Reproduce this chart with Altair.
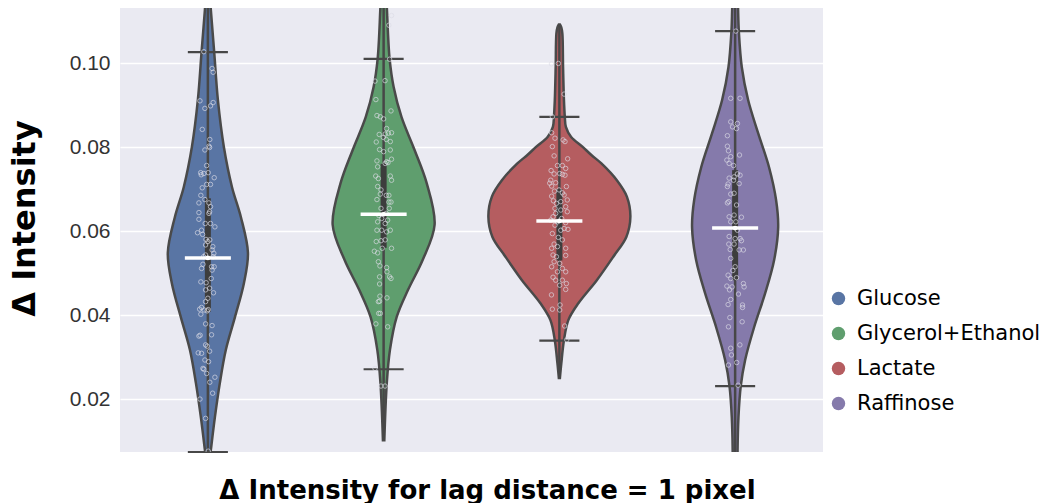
import altair as alt
import pandas as pd

# ---- categories and palette -------------------------------------------------
CATEGORIES = ["Glucose", "Glycerol+Ethanol", "Lactate", "Raffinose"]
COLORS = ["#5975A4", "#5F9E6E", "#B55D60", "#857AAB"]

# ---- violin outlines: Δ intensity grid and kernel half-width (category units)
GLUCOSE_KDE_Y = [0.1170, 0.1126, 0.1026, 0.0912, 0.0800, 0.0705, 0.0633, 0.0548,
                 0.0476, 0.0395, 0.0317, 0.0238, 0.0157, 0.0079, 0.0040]
GLUCOSE_KDE_W = [0.011, 0.017, 0.036, 0.057, 0.091, 0.137, 0.188, 0.228,
                 0.205, 0.154, 0.102, 0.068, 0.040, 0.017, 0.006]

GLYCEROL_KDE_Y = [0.1170, 0.1126, 0.1010, 0.0943, 0.0871, 0.0793, 0.0714, 0.0615,
                  0.0531, 0.0460, 0.0395, 0.0317, 0.0238, 0.0102]
GLYCEROL_KDE_W = [0.014, 0.019, 0.034, 0.057, 0.102, 0.176, 0.245, 0.290,
                  0.222, 0.139, 0.074, 0.036, 0.018, 0.004]

LACTATE_KDE_Y = [0.1092, 0.1085, 0.1070, 0.0990, 0.0912, 0.0872, 0.0848, 0.0824,
                 0.0801, 0.0781, 0.0761, 0.0721, 0.0682, 0.0634, 0.0586, 0.0539,
                 0.0483, 0.0428, 0.0388, 0.0340, 0.0285, 0.0250]
LACTATE_KDE_W = [0.003, 0.011, 0.017, 0.021, 0.026, 0.031, 0.037, 0.067,
                 0.131, 0.182, 0.239, 0.327, 0.384, 0.404, 0.381, 0.307,
                 0.213, 0.108, 0.051, 0.026, 0.011, 0.003]

RAFFINOSE_KDE_Y = [0.1170, 0.1126, 0.1076, 0.0990, 0.0912, 0.0833, 0.0752, 0.0674,
                   0.0610, 0.0531, 0.0452, 0.0371, 0.0293, 0.0231, 0.0157, 0.0079,
                   0.0040]
RAFFINOSE_KDE_W = [0.014, 0.017, 0.021, 0.038, 0.074, 0.131, 0.193, 0.233,
                   0.245, 0.222, 0.171, 0.108, 0.057, 0.032, 0.019, 0.014,
                   0.014]

# ---- box summary per category --------------------------------------------------
WHISKER_LO = [0.0074, 0.0271, 0.0339, 0.0231]
Q1 = [0.0408, 0.0560, 0.0530, 0.0483]
MEDIAN = [0.0536, 0.0640, 0.0624, 0.0607]
Q3 = [0.0678, 0.0760, 0.0700, 0.0745]
WHISKER_HI = [0.1026, 0.1010, 0.0872, 0.1076]

# ---- individual observations (value, horizontal jitter in category units) ---
GLUCOSE_PTS = [0.1027, 0.0987, 0.0978, 0.0910, 0.0906, 0.0898, 0.0892, 0.0842, 0.0818, 0.0802,
               0.0799, 0.0793, 0.0756, 0.0739, 0.0737, 0.0734, 0.0739, 0.0727, 0.0703, 0.0711,
               0.0711, 0.0685, 0.0675, 0.0667, 0.0667, 0.0658, 0.0646, 0.0642, 0.0610, 0.0618,
               0.0618, 0.0644, 0.0628, 0.0602, 0.0596, 0.0592, 0.0580, 0.0575, 0.0579, 0.0567,
               0.0563, 0.0555, 0.0547, 0.0539, 0.0543, 0.0539, 0.0521, 0.0511, 0.0515, 0.0515,
               0.0507, 0.0487, 0.0477, 0.0479, 0.0453, 0.0464, 0.0460, 0.0440, 0.0432, 0.0413,
               0.0410, 0.0414, 0.0418, 0.0412, 0.0402, 0.0375, 0.0379, 0.0353, 0.0352, 0.0350,
               0.0329, 0.0326, 0.0314, 0.0310, 0.0309, 0.0293, 0.0271, 0.0273, 0.0289, 0.0261,
               0.0252, 0.0240, 0.0214, 0.0200, 0.0154, 0.0076]
GLUCOSE_JIT = [-0.023, 0.024, 0.030, -0.045, 0.030, 0.015, -0.017, -0.032, 0.011, 0.006,
               0.010, -0.017, -0.007, -0.041, -0.023, -0.038, 0.002, 0.036, -0.032, -0.007,
               0.015, -0.040, -0.017, -0.051, 0.006, 0.015, 0.010, 0.006, 0.040, -0.015,
               0.015, -0.051, -0.051, -0.036, -0.059, -0.030, -0.011, 0.000, 0.011, -0.013,
               0.028, 0.024, 0.034, -0.024, -0.013, 0.030, -0.028, -0.036, 0.021, 0.036,
               0.024, 0.019, -0.010, -0.040, 0.032, 0.010, -0.013, 0.000, -0.013, 0.002,
               -0.004, -0.047, -0.036, -0.021, -0.040, 0.024, -0.013, 0.021, -0.044, -0.051,
               -0.013, -0.004, 0.010, -0.055, -0.036, -0.017, -0.023, -0.028, 0.004, -0.007,
               0.040, 0.011, 0.027, -0.045, -0.013, 0.002]

GLYCEROL_PTS = [0.1113, 0.1090, 0.1009, 0.0957, 0.0958, 0.0913, 0.0886, 0.0875, 0.0872, 0.0867,
                0.0844, 0.0830, 0.0831, 0.0833, 0.0834, 0.0823, 0.0812, 0.0818, 0.0813, 0.0794,
                0.0793, 0.0789, 0.0771, 0.0767, 0.0765, 0.0761, 0.0763, 0.0753, 0.0731, 0.0731,
                0.0725, 0.0721, 0.0706, 0.0698, 0.0688, 0.0685, 0.0685, 0.0675, 0.0669, 0.0669,
                0.0654, 0.0654, 0.0642, 0.0637, 0.0630, 0.0626, 0.0622, 0.0618, 0.0602, 0.0602,
                0.0598, 0.0602, 0.0575, 0.0577, 0.0579, 0.0552, 0.0548, 0.0559, 0.0559, 0.0527,
                0.0517, 0.0513, 0.0503, 0.0491, 0.0487, 0.0491, 0.0474, 0.0441, 0.0445, 0.0432,
                0.0433, 0.0404, 0.0404, 0.0379, 0.0372, 0.0273, 0.0231, 0.0231]
GLYCEROL_JIT = [0.045, 0.030, 0.034, -0.049, 0.008, -0.044, 0.042, -0.038, -0.019, 0.000,
                0.017, -0.025, 0.009, 0.027, 0.045, -0.002, -0.042, 0.015, 0.038, -0.023,
                0.038, 0.000, 0.045, -0.038, 0.017, 0.009, 0.025, -0.034, -0.045, 0.038,
                -0.030, 0.045, -0.034, -0.015, -0.019, 0.015, 0.030, -0.038, 0.030, 0.042,
                -0.015, 0.032, 0.015, -0.027, -0.011, 0.023, -0.034, 0.009, -0.038, -0.011,
                0.017, 0.038, -0.042, -0.015, 0.009, -0.053, -0.034, -0.008, 0.045, -0.030,
                -0.021, 0.017, 0.019, 0.034, 0.042, -0.023, -0.023, 0.019, -0.021, -0.030,
                -0.023, -0.028, -0.019, -0.044, 0.023, -0.049, -0.015, 0.008]

LACTATE_PTS = [0.0998, 0.0999, 0.0926, 0.0872, 0.0834, 0.0821, 0.0817, 0.0813, 0.0801, 0.0779,
               0.0772, 0.0756, 0.0756, 0.0744, 0.0749, 0.0737, 0.0736, 0.0735, 0.0733, 0.0721,
               0.0714, 0.0707, 0.0715, 0.0706, 0.0698, 0.0695, 0.0691, 0.0686, 0.0683, 0.0674,
               0.0670, 0.0666, 0.0672, 0.0658, 0.0654, 0.0650, 0.0646, 0.0642, 0.0634, 0.0626,
               0.0630, 0.0622, 0.0620, 0.0614, 0.0606, 0.0604, 0.0602, 0.0594, 0.0585, 0.0579,
               0.0569, 0.0559, 0.0563, 0.0559, 0.0543, 0.0539, 0.0542, 0.0527, 0.0523, 0.0515,
               0.0511, 0.0503, 0.0503, 0.0490, 0.0483, 0.0483, 0.0471, 0.0475, 0.0461, 0.0448,
               0.0424, 0.0414, 0.0412, 0.0374, 0.0341]
LACTATE_JIT = [-0.045, -0.006, 0.027, -0.040, -0.044, -0.025, 0.021, 0.032, -0.040, -0.030,
               0.047, -0.011, 0.017, -0.047, 0.036, 0.002, -0.030, 0.017, 0.032, -0.049,
               -0.055, -0.044, -0.021, 0.040, -0.002, -0.028, 0.017, 0.027, -0.044, 0.045,
               0.008, -0.017, -0.034, 0.036, -0.025, 0.008, 0.045, -0.021, -0.036, -0.049,
               0.013, -0.011, 0.036, -0.025, 0.027, 0.049, 0.008, -0.040, -0.006, 0.017,
               -0.030, -0.044, -0.011, 0.036, -0.036, -0.017, 0.036, -0.030, 0.002, -0.044,
               0.017, -0.011, 0.036, -0.036, -0.021, 0.017, 0.002, 0.040, 0.036, -0.045,
               0.004, -0.040, 0.002, 0.030, 0.042]

RAFFINOSE_PTS = [0.1076, 0.0916, 0.0916, 0.0860, 0.0856, 0.0848, 0.0844, 0.0827, 0.0802, 0.0791,
                 0.0769, 0.0777, 0.0761, 0.0756, 0.0781, 0.0736, 0.0733, 0.0729, 0.0726, 0.0721,
                 0.0713, 0.0712, 0.0706, 0.0688, 0.0690, 0.0670, 0.0667, 0.0662, 0.0634, 0.0638,
                 0.0633, 0.0622, 0.0622, 0.0602, 0.0587, 0.0582, 0.0582, 0.0569, 0.0569, 0.0577,
                 0.0555, 0.0555, 0.0556, 0.0535, 0.0515, 0.0506, 0.0495, 0.0487, 0.0489, 0.0469,
                 0.0467, 0.0475, 0.0467, 0.0460, 0.0450, 0.0437, 0.0425, 0.0424, 0.0418, 0.0394,
                 0.0384, 0.0372, 0.0321, 0.0329, 0.0305, 0.0287, 0.0281, 0.0233]
RAFFINOSE_JIT = [0.004, -0.025, 0.028, -0.025, 0.013, -0.015, 0.008, -0.044, -0.044, -0.038,
                 -0.047, -0.025, -0.034, -0.009, 0.025, 0.013, 0.028, -0.006, -0.034, -0.009,
                 0.023, -0.040, -0.044, -0.025, -0.006, -0.036, -0.044, 0.008, -0.034, -0.006,
                 0.036, -0.025, 0.004, 0.013, -0.034, 0.000, 0.028, -0.036, -0.006, 0.036,
                 0.023, 0.047, -0.028, -0.025, 0.000, -0.013, -0.040, -0.025, 0.008, -0.047,
                 -0.017, 0.047, 0.051, -0.032, 0.019, -0.025, -0.040, 0.042, 0.042, -0.030,
                 0.040, -0.038, -0.025, 0.027, -0.021, 0.009, -0.038, 0.017]

Y_DOMAIN = [0.0074, 0.1131]
Y_TICKS = [0.02, 0.04, 0.06, 0.08, 0.10]

# ---- assemble tables ------------------------------------------------------------
kde = [(GLUCOSE_KDE_Y, GLUCOSE_KDE_W), (GLYCEROL_KDE_Y, GLYCEROL_KDE_W),
       (LACTATE_KDE_Y, LACTATE_KDE_W), (RAFFINOSE_KDE_Y, RAFFINOSE_KDE_W)]
pts = [(GLUCOSE_PTS, GLUCOSE_JIT), (GLYCEROL_PTS, GLYCEROL_JIT),
       (LACTATE_PTS, LACTATE_JIT), (RAFFINOSE_PTS, RAFFINOSE_JIT)]

violin_rows, point_rows, box_rows = [], [], []
CAP = 0.114      # half length of whisker caps, category units
MED = 0.131      # half length of median bar
for i, cat in enumerate(CATEGORIES):
    ys, ws = kde[i]
    for y, w in sorted(zip(ys, ws)):
        violin_rows.append({"cat": cat, "value": y, "left": i - w, "right": i + w})
    for v, j in zip(*pts[i]):
        point_rows.append({"cat": cat, "value": v, "xpos": i + j})
    box_rows.append({"cat": cat, "pos": i, "lo": WHISKER_LO[i], "q1": Q1[i],
                     "med": MEDIAN[i], "q3": Q3[i], "hi": WHISKER_HI[i],
                     "tmin": min(ys), "tmax": max(ys),
                     "capl": i - CAP, "capr": i + CAP,
                     "medl": i - MED, "medr": i + MED})

violins = pd.DataFrame(violin_rows)
points = pd.DataFrame(point_rows)
boxes = pd.DataFrame(box_rows)

LINE = "#474747"
xscale = alt.Scale(domain=[-0.5, 3.5], nice=False, zero=False)
yscale = alt.Scale(domain=Y_DOMAIN, nice=False, zero=False)

x_axis = alt.Axis(labels=False, ticks=False, domain=False, grid=False,
                  title="Δ Intensity for lag distance = 1 pixel",
                  titleFont="DejaVu Sans", titleFontWeight="bold", titleFontSize=26,
                  titleColor="#000000", titleX=367, titleY=46,
                  titleBaseline="alphabetic", titleAlign="center")
y_axis = alt.Axis(values=Y_TICKS, format=".2f", ticks=False, domain=False,
                  grid=True, gridColor="#FFFFFF", gridWidth=1.6,
                  labelFont="Liberation Sans", labelFontSize=21, labelColor="#333333",
                  labelPadding=10,
                  title="Δ Intensity", titleFont="DejaVu Sans", titleFontWeight="bold",
                  titleFontSize=32, titleColor="#000000", titleAngle=270,
                  titleX=-86, titleY=210, titleBaseline="alphabetic", titleAlign="center")

color = alt.Color("cat:N", scale=alt.Scale(domain=CATEGORIES, range=COLORS),
                  legend=alt.Legend(title=None, orient="none", legendX=708, legendY=280,
                                    symbolType="circle", symbolSize=180,
                                    symbolStrokeWidth=0, symbolOpacity=1,
                                    labelFont="DejaVu Sans", labelFontSize=21,
                                    labelColor="#000000", labelOffset=8, labelLimit=0,
                                    rowPadding=13, padding=0))

violin_layer = alt.Chart(violins).mark_area(
    orient="horizontal", interpolate="catmull-rom", stroke="#4a4a4a",
    strokeWidth=2.5, fillOpacity=1, clip=True
).encode(
    y=alt.Y("value:Q", scale=yscale, axis=y_axis),
    x=alt.X("left:Q", scale=xscale, axis=x_axis),
    x2="right:Q",
    color=color,
    detail="cat:N",
)

thin = alt.Chart(boxes).mark_rule(color=LINE, strokeWidth=2.5, clip=True).encode(
    x=alt.X("pos:Q", scale=xscale), y=alt.Y("tmin:Q", scale=yscale), y2="tmax:Q")
thick = alt.Chart(boxes).mark_rule(color="#3d3d3d", strokeWidth=6).encode(
    x=alt.X("pos:Q", scale=xscale), y=alt.Y("q1:Q", scale=yscale), y2="q3:Q")
cap_lo = alt.Chart(boxes).mark_rule(color=LINE, strokeWidth=2.2).encode(
    x=alt.X("capl:Q", scale=xscale), x2="capr:Q", y=alt.Y("lo:Q", scale=yscale))
cap_hi = alt.Chart(boxes).mark_rule(color=LINE, strokeWidth=2.2).encode(
    x=alt.X("capl:Q", scale=xscale), x2="capr:Q", y=alt.Y("hi:Q", scale=yscale))

dots = alt.Chart(points).mark_point(
    shape="circle", filled=False, size=20, strokeWidth=0.9,
    color="#dcdce6", opacity=0.75, clip=True
).encode(x=alt.X("xpos:Q", scale=xscale), y=alt.Y("value:Q", scale=yscale))

median = alt.Chart(boxes).mark_rule(color="#FFFFFF", strokeWidth=3.5).encode(
    x=alt.X("medl:Q", scale=xscale), x2="medr:Q", y=alt.Y("med:Q", scale=yscale))
median_dot = alt.Chart(boxes).mark_point(
    shape="circle", filled=True, color="#FFFFFF", size=22, opacity=1
).encode(x=alt.X("pos:Q", scale=xscale), y=alt.Y("med:Q", scale=yscale))

chart = alt.layer(
    violin_layer, thin, thick, cap_lo, cap_hi, dots, median, median_dot
).properties(
    width=703, height=444,
    padding={"left": 120, "top": 8, "right": 222, "bottom": 51},
    autosize=alt.AutoSizeParams(type="none"),
    background="#FFFFFF",
).configure_view(
    fill="#EAEAF2", stroke=None
)

chart.save("out.html", embed_options={"renderer": "svg", "actions": False})
